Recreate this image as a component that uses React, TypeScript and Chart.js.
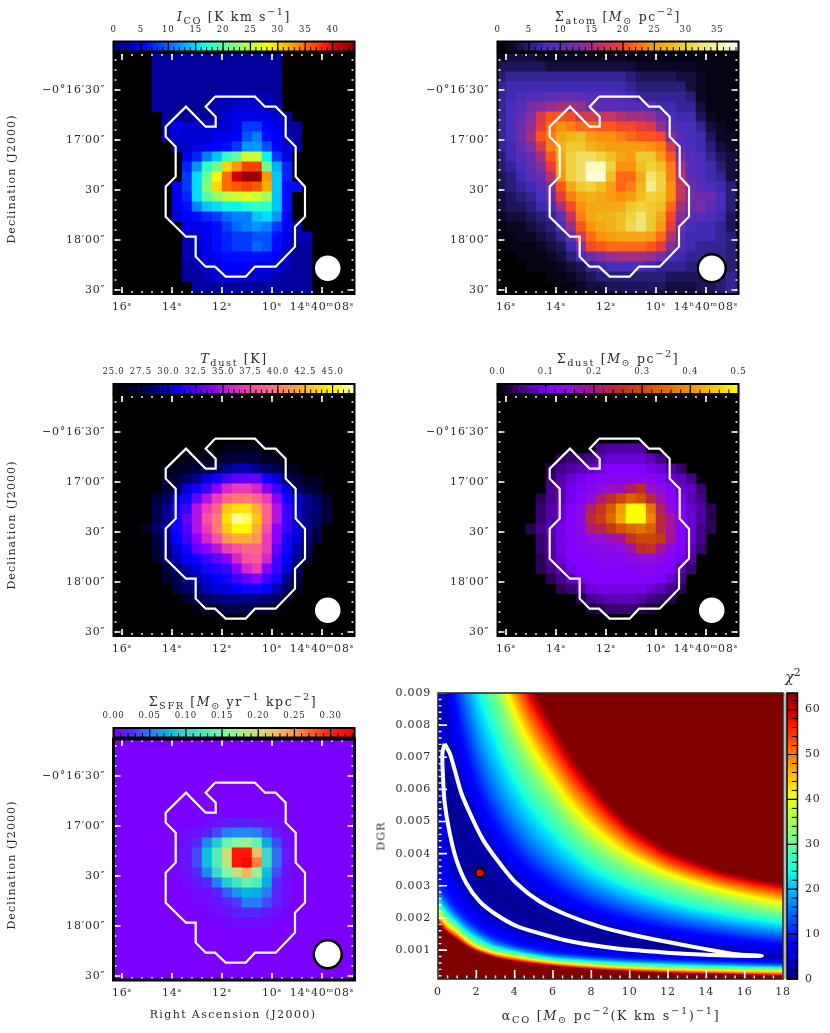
import React, { useEffect, useRef } from "react";
import { Chart, registerables } from "chart.js";

Chart.register(...registerables);

// sky grid of the maps: right ascension seconds and declination arcsec of the cell centres
const raCells = [16.2, 15.8, 15.4, 15.0, 14.6, 14.2, 13.8, 13.4, 13.0, 12.6, 12.2, 11.8, 11.4, 11.0, 10.6, 10.2, 9.8, 9.4, 9.0, 8.6, 8.2, 7.8, 7.4, 7.0, 6.6];
const decCells = [-970, -976, -982, -988, -994, -1000, -1006, -1012, -1018, -1024, -1030, -1036, -1042, -1048, -1054, -1060, -1066, -1072, -1078, -1084, -1090, -1096, -1102, -1108, -1114];

const raTicks = [16, 14, 12, 10, 8];
const raLabels = ["16ˢ", "14ˢ", "12ˢ", "10ˢ", "14ʰ40ᵐ08ˢ"];
const decTicks = [-990, -1020, -1050, -1080, -1110];
const decLabels = ["−0°16′30″", "17′00″", "30″", "18′00″", "30″"];

// mask outline drawn on each map
const maskRa = [12.28, 10.68, 10.28, 9.853, 9.453, 9.453, 9.053, 9.053, 8.68, 8.68, 9.08, 9.08, 9.853, 10.68, 11.053, 11.853, 12.28, 12.653, 13.053, 13.053, 13.44, 14.253, 14.253, 13.853, 13.853, 14.253, 14.253, 13.44, 12.653, 12.253, 12.253, 12.653, 12.28];
const maskDec = [-994, -994, -1000, -1000, -1006, -1018, -1024, -1042, -1048, -1066, -1072, -1084, -1096, -1096, -1102, -1102, -1096, -1096, -1090, -1078, -1078, -1066, -1048, -1042, -1024, -1018, -1012, -1000, -1012, -1012, -1006, -1000, -994];
const beamRa = [7.77];
const beamDec = [-1097];

const iCoRows = [
  [0, 0, 0, 0, 1, 1, 1, 1, 1, 1, 1, 1, 1, 1, 1, 1, 1, 0, 0, 0, 0, 0, 0, 0, 0],
  [0, 0, 0, 0, 1, 1, 1, 1, 1, 1, 1, 1, 1, 1, 1, 1, 1, 0, 0, 0, 0, 0, 0, 0, 0],
  [0, 0, 0, 0, 1, 1, 1, 1, 1, 1, 1, 1, 1, 1, 1, 1, 1, 0, 0, 0, 0, 0, 0, 0, 0],
  [0, 0, 0, 0, 1, 1, 1, 1, 1, 1, 1, 1, 1, 1, 1, 1, 1, 0, 0, 0, 0, 0, 0, 0, 0],
  [0, 0, 0, 0, 1, 1, 1, 1, 1, 1, 2, 2, 2, 2, 2, 2, 1, 0, 0, 0, 0, 0, 0, 0, 0],
  [0, 0, 0, 0, 1, 1, 1, 1, 1, 1, 2, 2, 3, 3, 3, 2, 2, 0, 0, 0, 0, 0, 0, 0, 0],
  [0, 0, 0, 0, 0, 1, 1, 1, 1, 1, 2, 3, 4, 4, 4, 4, 3, 1, 0, 0, 0, 0, 0, 0, 0],
  [0, 0, 0, 0, 0, 2, 4, 3, 3, 3, 3, 3, 4, 8, 8, 5, 4, 2, 1, 0, 0, 0, 0, 0, 0],
  [0, 0, 0, 0, 0, 2, 3, 3, 3, 3, 4, 4, 5, 9, 11, 6, 5, 3, 1, 0, 0, 0, 0, 0, 0],
  [0, 0, 0, 0, 0, 0, 2, 3, 4, 4, 5, 6, 8, 12, 12, 9, 5, 3, 1, 0, 0, 0, 0, 0, 0],
  [0, 0, 0, 0, 0, 0, 0, 4, 7, 11, 14, 18, 21, 26, 26, 16, 8, 4, 0, 0, 0, 0, 0, 0, 0],
  [0, 0, 0, 0, 0, 0, 0, 7, 12, 18, 21, 30, 33, 37, 37, 21, 13, 7, 0, 0, 0, 0, 0, 0, 0],
  [0, 0, 0, 0, 0, 0, 0, 8, 15, 21, 28, 35, 41, 43, 43, 33, 14, 7, 0, 0, 0, 0, 0, 0, 0],
  [0, 0, 0, 0, 0, 0, 5, 8, 15, 22, 30, 35, 36, 37, 36, 32, 14, 6, 6, 0, 0, 0, 0, 0, 0],
  [0, 0, 0, 0, 0, 0, 4, 7, 15, 20, 23, 25, 26, 27, 26, 24, 14, 6, 0, 0, 0, 0, 0, 0, 0],
  [0, 0, 0, 0, 0, 0, 4, 6, 11, 14, 15, 16, 16, 17, 18, 18, 14, 6, 0, 0, 0, 0, 0, 0, 0],
  [0, 0, 0, 0, 0, 0, 3, 5, 6, 7, 8, 10, 11, 11, 14, 15, 12, 5, 0, 0, 0, 0, 0, 0, 0],
  [0, 0, 0, 0, 0, 0, 0, 4, 4, 5, 6, 8, 10, 11, 12, 11, 8, 5, 2, 0, 0, 0, 0, 0, 0],
  [0, 0, 0, 0, 0, 0, 0, 2, 3, 4, 6, 7, 8, 8, 9, 9, 6, 4, 2, 2, 0, 0, 0, 0, 0],
  [0, 0, 0, 0, 0, 0, 0, 2, 3, 4, 6, 7, 8, 8, 10, 9, 6, 3, 1, 1, 0, 0, 0, 0, 0],
  [0, 0, 0, 0, 0, 0, 0, 2, 2, 4, 5, 6, 6, 6, 6, 6, 5, 3, 1, 1, 0, 0, 0, 0, 0],
  [0, 0, 0, 0, 0, 0, 0, 1, 2, 3, 4, 5, 5, 5, 4, 4, 3, 2, 1, 1, 0, 0, 0, 0, 0],
  [0, 0, 0, 0, 0, 0, 0, 1, 1, 2, 3, 4, 4, 3, 3, 3, 2, 1, 1, 1, 0, 0, 0, 0, 0],
  [0, 0, 0, 0, 0, 0, 0, 0, 1, 1, 1, 1, 1, 1, 1, 1, 1, 1, 1, 1, 0, 0, 0, 0, 0],
  [0, 0, 0, 0, 0, 0, 0, 0, 1, 1, 1, 1, 1, 1, 1, 1, 1, 1, 1, 1, 0, 0, 0, 0, 0],
];

const sigmaAtomRows = [
  [2, 3, 3, 3, 2, 2, 2, 2, 2, 2, 2, 2, 2, 1, 1, 1, 1, 1, 1, 1, 1, 1, 1, 1, 1],
  [4, 4, 4, 4, 4, 3, 3, 3, 3, 3, 3, 3, 3, 3, 2, 2, 2, 2, 2, 2, 1, 1, 1, 1, 1],
  [5, 6, 6, 6, 6, 6, 6, 6, 6, 6, 6, 6, 6, 5, 4, 4, 4, 4, 3, 3, 2, 1, 1, 1, 1],
  [6, 7, 7, 7, 7, 7, 7, 7, 7, 7, 7, 7, 7, 6, 5, 5, 5, 5, 5, 3, 2, 1, 1, 1, 1],
  [6, 7, 8, 9, 9, 10, 10, 10, 10, 9, 9, 9, 8, 7, 6, 6, 6, 6, 6, 5, 2, 1, 1, 1, 1],
  [6, 8, 9, 12, 13, 14, 15, 15, 14, 11, 10, 10, 9, 9, 9, 9, 7, 7, 6, 6, 3, 1, 1, 1, 1],
  [6, 8, 10, 13, 18, 21, 21, 20, 18, 18, 17, 17, 16, 15, 15, 14, 11, 8, 7, 7, 4, 2, 1, 1, 1],
  [6, 8, 11, 14, 19, 22, 24, 23, 22, 22, 21, 21, 20, 20, 19, 18, 14, 9, 8, 8, 6, 3, 2, 1, 1],
  [6, 8, 11, 15, 21, 23, 26, 27, 28, 25, 24, 24, 23, 22, 21, 21, 20, 13, 9, 8, 7, 4, 2, 2, 1],
  [6, 7, 10, 13, 18, 23, 27, 29, 29, 27, 26, 25, 25, 25, 25, 24, 23, 18, 9, 8, 7, 5, 3, 2, 2],
  [5, 7, 9, 11, 15, 21, 26, 30, 32, 32, 30, 28, 26, 25, 29, 29, 25, 21, 12, 9, 8, 6, 4, 3, 3],
  [5, 6, 8, 10, 13, 19, 25, 30, 32, 36, 36, 30, 24, 24, 28, 30, 28, 23, 15, 9, 8, 7, 5, 3, 3],
  [4, 5, 7, 9, 11, 16, 24, 30, 32, 37, 37, 28, 22, 22, 26, 33, 30, 23, 16, 10, 8, 7, 6, 3, 3],
  [4, 5, 6, 7, 9, 13, 21, 26, 29, 30, 28, 25, 22, 23, 27, 34, 30, 24, 17, 11, 9, 8, 7, 5, 3],
  [3, 4, 5, 6, 8, 11, 19, 23, 26, 27, 26, 25, 24, 25, 28, 30, 29, 24, 17, 12, 11, 11, 8, 5, 3],
  [3, 4, 4, 5, 7, 8, 15, 20, 24, 26, 26, 26, 26, 29, 30, 29, 28, 22, 15, 11, 12, 10, 8, 5, 2],
  [2, 3, 3, 4, 5, 6, 10, 17, 23, 26, 27, 27, 28, 30, 33, 29, 26, 20, 13, 9, 9, 8, 7, 4, 2],
  [1, 2, 2, 3, 4, 5, 8, 14, 21, 24, 26, 27, 28, 31, 33, 29, 25, 19, 11, 8, 7, 7, 6, 4, 2],
  [1, 1, 2, 2, 3, 4, 6, 10, 18, 22, 24, 25, 26, 26, 26, 25, 22, 16, 9, 7, 7, 7, 6, 5, 3],
  [0, 1, 1, 1, 2, 3, 4, 7, 13, 20, 21, 22, 22, 22, 22, 21, 19, 13, 8, 7, 6, 6, 6, 5, 3],
  [0, 0, 1, 1, 1, 2, 3, 5, 8, 11, 13, 14, 15, 15, 15, 14, 12, 8, 7, 6, 6, 6, 6, 5, 4],
  [0, 0, 0, 1, 1, 1, 2, 3, 4, 6, 7, 8, 8, 8, 8, 7, 6, 6, 6, 5, 5, 5, 5, 5, 4],
  [0, 0, 0, 0, 0, 1, 1, 2, 3, 4, 5, 5, 5, 5, 5, 5, 5, 4, 4, 4, 4, 5, 5, 6, 5],
  [0, 0, 0, 0, 0, 0, 1, 1, 2, 3, 3, 4, 4, 4, 4, 4, 4, 3, 3, 3, 4, 4, 5, 6, 5],
  [0, 0, 0, 0, 0, 0, 1, 1, 1, 2, 2, 2, 3, 3, 3, 3, 3, 3, 3, 3, 3, 3, 4, 6, 5],
];

const tDustRows = [
  [0, 0, 0, 0, 0, 0, 0, 0, 0, 0, 0, 0, 0, 0, 0, 0, 0, 0, 0, 0, 0, 0, 0, 0, 0],
  [0, 0, 0, 0, 0, 0, 0, 0, 0, 0, 0, 0, 0, 0, 0, 0, 0, 0, 0, 0, 0, 0, 0, 0, 0],
  [0, 0, 0, 0, 0, 0, 0, 0, 0, 0, 0, 0, 0, 0, 0, 0, 0, 0, 0, 0, 0, 0, 0, 0, 0],
  [0, 0, 0, 0, 0, 0, 0, 0, 0, 0, 0, 0, 0, 0, 0, 0, 0, 0, 0, 0, 0, 0, 0, 0, 0],
  [0, 0, 0, 0, 0, 0, 0, 0, 0, 0, 0, 0, 0, 0, 0, 0, 0, 0, 0, 0, 0, 0, 0, 0, 0],
  [0, 0, 0, 0, 0, 0, 0, 0, 0, 0, 0, 26, 26, 26, 26, 0, 0, 0, 0, 0, 0, 0, 0, 0, 0],
  [0, 0, 0, 0, 0, 0, 0, 26, 26, 26, 26.5, 27, 27, 27, 27, 26, 26, 0, 0, 0, 0, 0, 0, 0, 0],
  [0, 0, 0, 0, 0, 26, 26, 26.5, 27, 27, 28, 29, 29.5, 29.5, 29, 28, 27.5, 26.5, 26, 0, 0, 0, 0, 0, 0],
  [0, 0, 0, 0, 0, 26.5, 27, 28, 29, 30, 31, 32, 33, 33, 33, 31, 30, 28, 27, 26, 26, 0, 0, 0, 0],
  [0, 0, 0, 0, 0, 27, 28, 30, 31, 32, 34, 36, 37, 37, 36, 34, 32, 30, 28, 27, 26.5, 0, 0, 0, 0],
  [0, 0, 0, 0, 27, 28, 30, 31, 33, 35, 37, 39, 40, 40, 39, 37, 34, 31, 30, 29, 28, 26.5, 0, 0, 0],
  [0, 0, 0, 0, 27.5, 29, 31, 32, 35, 37, 39, 43, 44, 44, 42, 39, 35, 32, 30, 29, 28.5, 27, 0, 0, 0],
  [0, 0, 0, 0, 27.5, 29, 31, 33, 35, 38, 40, 44, 46.5, 46, 43, 39, 35, 32, 30, 29, 28, 27, 0, 0, 0],
  [0, 0, 0, 26.5, 28, 29.5, 31, 32.5, 35, 37, 40, 43, 45, 45, 42, 38, 34, 32, 30, 29, 27.5, 0, 0, 0, 0],
  [0, 0, 0, 0, 27, 29, 30.5, 32, 34, 36, 38, 41, 42, 42, 41, 37, 34, 31, 30, 28.5, 27, 0, 0, 0, 0],
  [0, 0, 0, 0, 27, 28.5, 30, 31, 33, 34, 35, 37, 38, 39, 39, 37, 33, 31, 29.5, 28, 0, 0, 0, 0, 0],
  [0, 0, 0, 0, 26.5, 28, 29.5, 30.5, 31, 32, 33, 34, 36, 38, 38.5, 36, 32, 30.5, 29, 27, 0, 0, 0, 0, 0],
  [0, 0, 0, 0, 0, 27, 28.5, 29.5, 30, 31, 31.5, 32, 34, 36, 37, 34, 32, 30, 28.5, 0, 0, 0, 0, 0, 0],
  [0, 0, 0, 0, 0, 26.5, 27.5, 29, 29.5, 30, 30.5, 31, 32, 33, 34, 32, 31, 29, 27.5, 0, 0, 0, 0, 0, 0],
  [0, 0, 0, 0, 0, 0, 27, 28, 29, 29.5, 30, 30, 30.5, 31, 31, 30.5, 29.5, 28, 26.5, 0, 0, 0, 0, 0, 0],
  [0, 0, 0, 0, 0, 0, 0, 26.5, 27.5, 28, 28.5, 29, 29, 29, 29, 28.5, 28, 26.5, 0, 0, 0, 0, 0, 0, 0],
  [0, 0, 0, 0, 0, 0, 0, 0, 26, 26.5, 27, 27.5, 27.5, 27.5, 27, 26.5, 26, 0, 0, 0, 0, 0, 0, 0, 0],
  [0, 0, 0, 0, 0, 0, 0, 0, 0, 0, 0, 0, 0, 0, 0, 0, 0, 0, 0, 0, 0, 0, 0, 0, 0],
  [0, 0, 0, 0, 0, 0, 0, 0, 0, 0, 0, 0, 0, 0, 0, 0, 0, 0, 0, 0, 0, 0, 0, 0, 0],
  [0, 0, 0, 0, 0, 0, 0, 0, 0, 0, 0, 0, 0, 0, 0, 0, 0, 0, 0, 0, 0, 0, 0, 0, 0],
];

const sigmaDustRows = [
  [0, 0, 0, 0, 0, 0, 0, 0, 0, 0, 0, 0, 0, 0, 0, 0, 0, 0, 0, 0, 0, 0, 0, 0, 0],
  [0, 0, 0, 0, 0, 0, 0, 0, 0, 0, 0, 0, 0, 0, 0, 0, 0, 0, 0, 0, 0, 0, 0, 0, 0],
  [0, 0, 0, 0, 0, 0, 0, 0, 0, 0, 0, 0, 0, 0, 0, 0, 0, 0, 0, 0, 0, 0, 0, 0, 0],
  [0, 0, 0, 0, 0, 0, 0, 0, 0, 0, 0, 0, 0, 0, 0, 0, 0, 0, 0, 0, 0, 0, 0, 0, 0],
  [0, 0, 0, 0, 0, 0, 0, 0, 0, 0, 0, 0, 0, 0, 0, 0, 0, 0, 0, 0, 0, 0, 0, 0, 0],
  [0, 0, 0, 0, 0, 0, 0, 0, 0, 0, 0.05, 0.06, 0.06, 0.06, 0.06, 0, 0, 0, 0, 0, 0, 0, 0, 0, 0],
  [0, 0, 0, 0, 0, 0, 0.03, 0.04, 0.04, 0.05, 0.07, 0.08, 0.08, 0.08, 0.08, 0.07, 0.05, 0, 0, 0, 0, 0, 0, 0, 0],
  [0, 0, 0, 0, 0, 0.03, 0.05, 0.06, 0.07, 0.08, 0.09, 0.1, 0.1, 0.1, 0.1, 0.09, 0.08, 0.06, 0.04, 0, 0, 0, 0, 0, 0],
  [0, 0, 0, 0, 0, 0.04, 0.06, 0.08, 0.09, 0.1, 0.11, 0.12, 0.12, 0.12, 0.12, 0.12, 0.1, 0.08, 0.07, 0.05, 0, 0, 0, 0, 0],
  [0, 0, 0, 0, 0, 0.05, 0.07, 0.09, 0.1, 0.12, 0.14, 0.16, 0.17, 0.22, 0.25, 0.16, 0.14, 0.11, 0.08, 0.07, 0.04, 0, 0, 0, 0],
  [0, 0, 0, 0, 0.03, 0.05, 0.07, 0.09, 0.11, 0.14, 0.21, 0.25, 0.29, 0.33, 0.31, 0.24, 0.18, 0.12, 0.09, 0.07, 0.05, 0, 0, 0, 0],
  [0, 0, 0, 0, 0.04, 0.06, 0.08, 0.1, 0.13, 0.22, 0.26, 0.32, 0.41, 0.5, 0.5, 0.36, 0.22, 0.14, 0.1, 0.08, 0.06, 0.03, 0, 0, 0],
  [0, 0, 0, 0, 0.04, 0.06, 0.08, 0.1, 0.13, 0.24, 0.28, 0.34, 0.42, 0.5, 0.5, 0.38, 0.24, 0.19, 0.1, 0.08, 0.06, 0.03, 0, 0, 0],
  [0, 0, 0, 0.03, 0.05, 0.07, 0.09, 0.11, 0.13, 0.21, 0.23, 0.27, 0.31, 0.34, 0.36, 0.33, 0.24, 0.19, 0.11, 0.08, 0.05, 0.03, 0, 0, 0],
  [0, 0, 0, 0, 0.04, 0.06, 0.09, 0.1, 0.12, 0.14, 0.15, 0.17, 0.19, 0.26, 0.29, 0.29, 0.27, 0.19, 0.11, 0.08, 0.05, 0, 0, 0, 0],
  [0, 0, 0, 0, 0.04, 0.06, 0.09, 0.1, 0.11, 0.12, 0.13, 0.13, 0.14, 0.17, 0.25, 0.26, 0.19, 0.13, 0.1, 0.07, 0.04, 0, 0, 0, 0],
  [0, 0, 0, 0, 0.03, 0.06, 0.08, 0.1, 0.1, 0.11, 0.12, 0.12, 0.12, 0.13, 0.14, 0.14, 0.13, 0.11, 0.09, 0.06, 0, 0, 0, 0, 0],
  [0, 0, 0, 0, 0.03, 0.05, 0.07, 0.09, 0.1, 0.1, 0.11, 0.11, 0.11, 0.11, 0.12, 0.12, 0.11, 0.1, 0.07, 0.04, 0, 0, 0, 0, 0],
  [0, 0, 0, 0, 0, 0.03, 0.05, 0.07, 0.09, 0.1, 0.1, 0.1, 0.1, 0.1, 0.1, 0.1, 0.1, 0.08, 0.05, 0, 0, 0, 0, 0, 0],
  [0, 0, 0, 0, 0, 0, 0.03, 0.04, 0.06, 0.08, 0.09, 0.09, 0.09, 0.09, 0.09, 0.08, 0.07, 0.05, 0.03, 0, 0, 0, 0, 0, 0],
  [0, 0, 0, 0, 0, 0, 0, 0, 0.03, 0.05, 0.06, 0.07, 0.07, 0.07, 0.06, 0.05, 0.04, 0.03, 0, 0, 0, 0, 0, 0, 0],
  [0, 0, 0, 0, 0, 0, 0, 0, 0, 0.02, 0.03, 0.04, 0.04, 0.04, 0.03, 0.02, 0, 0, 0, 0, 0, 0, 0, 0, 0],
  [0, 0, 0, 0, 0, 0, 0, 0, 0, 0, 0, 0, 0, 0, 0, 0, 0, 0, 0, 0, 0, 0, 0, 0, 0],
  [0, 0, 0, 0, 0, 0, 0, 0, 0, 0, 0, 0, 0, 0, 0, 0, 0, 0, 0, 0, 0, 0, 0, 0, 0],
  [0, 0, 0, 0, 0, 0, 0, 0, 0, 0, 0, 0, 0, 0, 0, 0, 0, 0, 0, 0, 0, 0, 0, 0, 0],
];

const sigmaSfrRows = [
  [0, 0, 0, 0, 0, 0, 0, 0, 0, 0, 0, 0, 0, 0, 0, 0, 0, 0, 0, 0, 0, 0, 0, 0, 0],
  [0, 0, 0, 0, 0, 0, 0, 0, 0, 0, 0, 0, 0, 0, 0, 0, 0, 0, 0, 0, 0, 0, 0, 0, 0],
  [0, 0, 0, 0, 0, 0, 0, 0, 0, 0, 0, 0, 0, 0, 0, 0, 0, 0, 0, 0, 0, 0, 0, 0, 0],
  [0, 0, 0, 0, 0, 0, 0, 0, 0, 0, 0, 0, 0, 0, 0, 0, 0, 0, 0, 0, 0, 0, 0, 0, 0],
  [0, 0, 0, 0, 0, 0, 0, 0, 0, 0, 0, 0, 0, 0, 0, 0, 0, 0, 0, 0, 0, 0, 0, 0, 0],
  [0, 0, 0, 0, 0, 0, 0, 0, 0, 0, 0, 0, 0, 0, 0, 0, 0, 0, 0, 0, 0, 0, 0, 0, 0],
  [0, 0, 0, 0, 0, 0, 0, 0, 0, 0, 0, 0, 0, 0, 0, 0, 0, 0, 0, 0, 0, 0, 0, 0, 0],
  [0, 0, 0, 0, 0, 0, 0, 0, 0, 0.002, 0.002, 0.002, 0.002, 0.002, 0.002, 0.002, 0, 0, 0, 0, 0, 0, 0, 0, 0],
  [0, 0, 0, 0, 0, 0, 0, 0.002, 0.004, 0.006, 0.01, 0.015, 0.018, 0.018, 0.015, 0.01, 0.006, 0.002, 0, 0, 0, 0, 0, 0, 0],
  [0, 0, 0, 0, 0, 0, 0.002, 0.006, 0.012, 0.02, 0.035, 0.05, 0.055, 0.055, 0.05, 0.035, 0.015, 0.006, 0, 0, 0, 0, 0, 0, 0],
  [0, 0, 0, 0, 0, 0, 0.004, 0.01, 0.025, 0.055, 0.09, 0.14, 0.16, 0.17, 0.14, 0.07, 0.035, 0.01, 0.002, 0, 0, 0, 0, 0, 0],
  [0, 0, 0, 0, 0, 0, 0.006, 0.014, 0.035, 0.08, 0.13, 0.2, 0.31, 0.31, 0.22, 0.1, 0.045, 0.014, 0.002, 0, 0, 0, 0, 0, 0],
  [0, 0, 0, 0, 0, 0, 0.006, 0.014, 0.035, 0.08, 0.13, 0.19, 0.31, 0.33, 0.26, 0.1, 0.045, 0.014, 0.002, 0, 0, 0, 0, 0, 0],
  [0, 0, 0, 0, 0, 0, 0.004, 0.01, 0.025, 0.055, 0.1, 0.15, 0.19, 0.23, 0.17, 0.08, 0.035, 0.01, 0.002, 0, 0, 0, 0, 0, 0],
  [0, 0, 0, 0, 0, 0, 0, 0.006, 0.014, 0.025, 0.05, 0.09, 0.12, 0.14, 0.13, 0.07, 0.025, 0.006, 0, 0, 0, 0, 0, 0, 0],
  [0, 0, 0, 0, 0, 0, 0, 0.002, 0.006, 0.01, 0.02, 0.04, 0.06, 0.075, 0.07, 0.05, 0.02, 0.006, 0, 0, 0, 0, 0, 0, 0],
  [0, 0, 0, 0, 0, 0, 0, 0.002, 0.004, 0.006, 0.01, 0.02, 0.03, 0.05, 0.05, 0.035, 0.02, 0.006, 0, 0, 0, 0, 0, 0, 0],
  [0, 0, 0, 0, 0, 0, 0, 0, 0.002, 0.004, 0.006, 0.01, 0.02, 0.025, 0.025, 0.015, 0.01, 0.002, 0, 0, 0, 0, 0, 0, 0],
  [0, 0, 0, 0, 0, 0, 0, 0, 0, 0.002, 0.002, 0.004, 0.006, 0.008, 0.008, 0.006, 0.002, 0, 0, 0, 0, 0, 0, 0, 0],
  [0, 0, 0, 0, 0, 0, 0, 0, 0, 0, 0, 0, 0, 0, 0, 0, 0, 0, 0, 0, 0, 0, 0, 0, 0],
  [0, 0, 0, 0, 0, 0, 0, 0, 0, 0, 0, 0, 0, 0, 0, 0, 0, 0, 0, 0, 0, 0, 0, 0, 0],
  [0, 0, 0, 0, 0, 0, 0, 0, 0, 0, 0, 0, 0, 0, 0, 0, 0, 0, 0, 0, 0, 0, 0, 0, 0],
  [0, 0, 0, 0, 0, 0, 0, 0, 0, 0, 0, 0, 0, 0, 0, 0, 0, 0, 0, 0, 0, 0, 0, 0, 0],
  [0, 0, 0, 0, 0, 0, 0, 0, 0, 0, 0, 0, 0, 0, 0, 0, 0, 0, 0, 0, 0, 0, 0, 0, 0],
  [0, 0, 0, 0, 0, 0, 0, 0, 0, 0, 0, 0, 0, 0, 0, 0, 0, 0, 0, 0, 0, 0, 0, 0, 0],
];

// chi-square surface, read as the DGR where each level is crossed, one row per alpha column
const alphaColumns = [0, 0.5, 1, 2, 3, 4, 6, 8, 10, 12, 15, 18];
const chi2Levels = [64, 52, 41, 32, 24, 16, 10, 6, 3, 1, 3, 6, 10, 16, 24, 32, 41, 52, 64];
const levelDgr = [
  [0.00184, 0.00198, 0.00215, 0.00235, 0.00256, 0.0028, 0.00308, 0.004, 0.3, 0.4, 0.5, 0.6, 0.7, 0.8, 0.9, 1, 1.1, 1.2, 1.3],
  [0.00152, 0.00164, 0.00178, 0.00195, 0.00213, 0.00236, 0.00262, 0.0034, 0.005, 0.0061, 0.0073, 0.009, 0.01065, 0.0126, 0.0154, 0.0185, 0.0207, 0.023, 0.026],
  [0.00132, 0.00144, 0.00157, 0.0017, 0.00184, 0.00203, 0.00225, 0.0028, 0.0038, 0.0052, 0.0062, 0.0074, 0.00875, 0.01036, 0.0127, 0.0152, 0.017, 0.019, 0.0214],
  [0.00096, 0.00103, 0.00111, 0.00123, 0.00137, 0.00154, 0.00173, 0.0021, 0.00265, 0.0036, 0.00484, 0.00545, 0.00645, 0.00763, 0.00934, 0.0112, 0.01255, 0.0139, 0.0158],
  [0.00076, 0.00083, 0.0009, 0.00098, 0.00108, 0.00121, 0.00137, 0.00165, 0.00205, 0.0028, 0.0039, 0.0043, 0.0051, 0.00604, 0.0076, 0.00905, 0.0102, 0.0113, 0.0129],
  [0.00064, 0.00072, 0.0008, 0.00087, 0.00095, 0.00105, 0.00116, 0.00143, 0.00178, 0.00235, 0.00313, 0.00357, 0.00422, 0.005, 0.00625, 0.0075, 0.0084, 0.0094, 0.0106],
  [0.0005, 0.00056, 0.00062, 0.00068, 0.00074, 0.00083, 0.00092, 0.00112, 0.0014, 0.0018, 0.00231, 0.00265, 0.00314, 0.00372, 0.00465, 0.0056, 0.0063, 0.0071, 0.0081],
  [0.0004, 0.00046, 0.00052, 0.00058, 0.00065, 0.00073, 0.00082, 0.00097, 0.00115, 0.00148, 0.00182, 0.00208, 0.00245, 0.00292, 0.00355, 0.00425, 0.00485, 0.0055, 0.00625],
  [0.00033, 0.00039, 0.00045, 0.00052, 0.00059, 0.00066, 0.00074, 0.00088, 0.00102, 0.00128, 0.0015, 0.00172, 0.00205, 0.00242, 0.00295, 0.0035, 0.00395, 0.0044, 0.00495],
  [0.00028, 0.00034, 0.00041, 0.00047, 0.00054, 0.00062, 0.0007, 0.0008, 0.00092, 0.00112, 0.00125, 0.00148, 0.00176, 0.0021, 0.00252, 0.00303, 0.00338, 0.0037, 0.00415],
  [0.00024, 0.0003, 0.00037, 0.00043, 0.00049, 0.00056, 0.00064, 0.00074, 0.00083, 0.00088, 0.00092, 0.00122, 0.00147, 0.00175, 0.00212, 0.00252, 0.00284, 0.00312, 0.00345],
  [0.00019, 0.00026, 0.00034, 0.0004, 0.00045, 0.00052, 0.00059, 0.00069, 0.00078, 0.000785, 0.00079, 0.00105, 0.00126, 0.00152, 0.00184, 0.00215, 0.00246, 0.00277, 0.00308],
];

const confidenceAlpha = [0.35, 0.61, 0.87, 1.22, 1.74, 2.35, 3.22, 4.09, 5.31, 6.71, 8.45, 10.19, 11.93, 13.68, 15.42, 16.9, 15.42, 13.68, 11.93, 10.19, 8.45, 6.71, 5.31, 4.09, 3.05, 2.18, 1.48, 0.96, 0.61, 0.35, 0.26, 0.23, 0.35];
const confidenceDgr = [0.00742, 0.00713, 0.00661, 0.00588, 0.00516, 0.00443, 0.0037, 0.00308, 0.00251, 0.0021, 0.00173, 0.00147, 0.00126, 0.00106, 0.00088, 0.00082, 0.00082, 0.00086, 0.00092, 0.001, 0.00112, 0.0013, 0.00152, 0.00175, 0.0021, 0.00251, 0.00308, 0.00381, 0.00464, 0.00557, 0.0064, 0.00713, 0.00742];
const bestAlpha = [2.18];
const bestDgr = [0.00341];

const alphaTicks = [0, 2, 4, 6, 8, 10, 12, 14, 16, 18];
const dgrTicks = [0.001, 0.002, 0.003, 0.004, 0.005, 0.006, 0.007, 0.008, 0.009];
const chi2Ticks = [0, 10, 20, 30, 40, 50, 60];

type Stop = number[];

const jetStops: Stop[] = [[0, 0, 0, 128], [0.11, 0, 0, 255], [0.125, 0, 0, 255], [0.34, 0, 219, 255], [0.35, 0, 229, 246], [0.375, 20, 255, 226], [0.64, 247, 255, 8], [0.66, 255, 236, 0], [0.89, 255, 18, 0], [0.91, 232, 0, 0], [1, 128, 0, 0]];
const atomStops: Stop[] = [[0, 0, 0, 0], [2.5, 15, 10, 45], [5, 40, 30, 120], [7.5, 70, 45, 190], [10, 95, 45, 180], [13, 130, 45, 160], [16, 180, 50, 110], [19, 230, 60, 60], [21, 255, 85, 25], [24, 250, 145, 15], [27, 240, 180, 25], [30, 240, 210, 60], [33, 240, 230, 120], [36, 250, 250, 190], [38.4, 255, 255, 255]];
const tDustStops: Stop[] = [[25, 0, 0, 0], [27, 0, 0, 60], [29, 0, 0, 140], [30.5, 0, 0, 255], [32.5, 80, 0, 255], [34, 140, 0, 255], [35.5, 200, 30, 210], [37.5, 245, 70, 170], [39.5, 255, 110, 130], [41.5, 255, 160, 70], [43, 255, 200, 20], [45, 255, 250, 0], [47, 255, 255, 210]];
const dustStops: Stop[] = [[0, 0, 0, 0], [0.05, 70, 0, 140], [0.1, 130, 0, 255], [0.15, 145, 15, 215], [0.2, 170, 20, 140], [0.25, 190, 45, 40], [0.3, 210, 75, 0], [0.35, 225, 110, 0], [0.4, 240, 150, 0], [0.45, 248, 200, 0], [0.5, 255, 255, 0]];
const sfrStops: Stop[] = [[0, 122, 0, 255], [0.025, 85, 40, 250], [0.05, 40, 125, 245], [0.075, 0, 185, 225], [0.1, 60, 215, 205], [0.125, 70, 235, 185], [0.15, 120, 250, 170], [0.175, 165, 240, 140], [0.2, 205, 220, 120], [0.225, 245, 185, 100], [0.25, 255, 150, 70], [0.275, 255, 90, 40], [0.3, 255, 30, 15], [0.333, 255, 0, 0]];

const SERIF = '"DejaVu Serif", serif';
const TEXT = "#2a2a2a";

const rgbAt = (stops: Stop[], v: number) => {
  if (v <= stops[0][0]) return stops[0].slice(1);
  for (let i = 1; i < stops.length; i++) {
    if (v <= stops[i][0]) {
      const a = stops[i - 1];
      const b = stops[i];
      const t = (v - a[0]) / (b[0] - a[0]);
      return [a[1] + (b[1] - a[1]) * t, a[2] + (b[2] - a[2]) * t, a[3] + (b[3] - a[3]) * t];
    }
  }
  return stops[stops.length - 1].slice(1);
};
const cssAt = (stops: Stop[], v: number) => {
  const c = rgbAt(stops, v);
  return `rgb(${Math.round(c[0])},${Math.round(c[1])},${Math.round(c[2])})`;
};

const logLevels = levelDgr.map((col) => col.map((d) => Math.log(d)));
const logAlpha = alphaColumns.map((a) => Math.log(a + 1.8));

// value between the typed level crossings, only used to shade the surface smoothly
const chi2At = (alpha: number, dgr: number) => {
  const la = Math.log(Math.max(alpha, 0) + 1.8);
  const ld = Math.log(dgr);
  let i = 0;
  while (i < logAlpha.length - 2 && la > logAlpha[i + 1]) i++;
  const t = Math.min(1, (la - logAlpha[i]) / (logAlpha[i + 1] - logAlpha[i]));
  let prev = logLevels[i][0] + (logLevels[i + 1][0] - logLevels[i][0]) * t;
  if (ld <= prev) return chi2Levels[0];
  for (let k = 1; k < chi2Levels.length; k++) {
    const cur = logLevels[i][k] + (logLevels[i + 1][k] - logLevels[i][k]) * t;
    if (ld <= cur) {
      const f = (ld - prev) / (cur - prev);
      return chi2Levels[k - 1] + (chi2Levels[k] - chi2Levels[k - 1]) * f;
    }
    prev = cur;
  }
  return chi2Levels[chi2Levels.length - 1];
};

const marks = (ctx: any, scale: any, vals: number[], side: string, len: number, width: number, color: string) => {
  const area = scale.chart.chartArea;
  ctx.strokeStyle = color;
  ctx.lineWidth = width;
  ctx.beginPath();
  vals.forEach((v) => {
    const p = scale.getPixelForValue(v);
    if (side === "bottom") { ctx.moveTo(p, area.bottom); ctx.lineTo(p, area.bottom - len); }
    if (side === "top") { ctx.moveTo(p, area.top); ctx.lineTo(p, area.top + len); }
    if (side === "left") { ctx.moveTo(area.left, p); ctx.lineTo(area.left + len, p); }
    if (side === "right") { ctx.moveTo(area.right, p); ctx.lineTo(area.right - len, p); }
  });
  ctx.stroke();
};

// wider glyph spacing for the tick labels, the reference face is set loose
const textSpacing = {
  id: "textSpacing",
  beforeDraw(chart: any) {
    chart.ctx.letterSpacing = "0.8px";
  },
};

const colorbarPlugin = (stops: Stop[], minorStep: number, y0: number, h: number) => ({
  id: "colorbar",
  afterDraw(chart: any) {
    const { ctx, chartArea } = chart;
    const s = chart.scales.cbar;
    const y = chartArea.top - y0;
    ctx.save();
    for (let px = Math.floor(chartArea.left); px < chartArea.right; px++) {
      ctx.fillStyle = cssAt(stops, s.getValueForPixel(px + 0.5));
      ctx.fillRect(px, y, 1.2, h);
    }
    ctx.strokeStyle = "#000";
    ctx.lineWidth = 1;
    ctx.beginPath();
    for (let v = s.min; v < s.max; v += minorStep) {
      const p = s.getPixelForValue(v);
      ctx.moveTo(p, y + h);
      ctx.lineTo(p, y + h * 0.55);
    }
    ctx.stroke();
    ctx.lineWidth = 1.2;
    ctx.beginPath();
    s.ticks.forEach((t: any) => {
      const p = s.getPixelForValue(t.value);
      ctx.moveTo(p, y);
      ctx.lineTo(p, y + h);
    });
    ctx.stroke();
    ctx.lineWidth = 2;
    ctx.strokeRect(chartArea.left, y, chartArea.width, h);
    ctx.restore();
  },
});

const mapFrame = (background: string, frame: number) => ({
  id: "mapFrame",
  beforeDatasetsDraw(chart: any) {
    const { ctx, chartArea: a } = chart;
    ctx.fillStyle = background;
    ctx.fillRect(a.left, a.top, a.width, a.height);
  },
  afterDatasetsDraw(chart: any) {
    const { ctx, chartArea: a, scales } = chart;
    const raMinor: number[] = [];
    for (let v = 16.4; v > 6.8; v -= 0.4) raMinor.push(v);
    const decMinor: number[] = [];
    for (let v = -972; v > -1112; v -= 6) decMinor.push(v);
    ctx.save();
    ["bottom", "top"].forEach((side) => {
      marks(ctx, scales.x, raMinor, side, 3, 1.4, "#fff");
      marks(ctx, scales.x, raTicks, side, 7, 1.6, "#fff");
    });
    ["left", "right"].forEach((side) => {
      marks(ctx, scales.y, decMinor, side, 3, 1.4, "#fff");
      marks(ctx, scales.y, decTicks, side, 7, 1.6, "#fff");
    });
    ctx.strokeStyle = "#000";
    ctx.lineWidth = frame;
    ctx.strokeRect(a.left, a.top, a.width, a.height);
    ctx.restore();
  },
});

const fixedTicks = (vals: number[]) => (s: any) => {
  s.ticks = vals.map((value) => ({ value }));
};
// fixed box for an axis, with no extra room asked for labels that hang over the plot
const fitBox = (size: number) => (s: any) => {
  if (s.isHorizontal()) s.height = size;
  else s.width = size;
  s.paddingLeft = 0;
  s.paddingRight = 0;
  s.paddingTop = 0;
  s.paddingBottom = 0;
};
const noGrid = { grid: { display: false, drawTicks: false }, border: { display: false } };

const mapConfig = (p: any): any => {
  const cells: any[] = [];
  const colors: string[] = [];
  p.rows.forEach((row: number[], r: number) =>
    row.forEach((v, c) => {
      if (v > 0) {
        cells.push({ x: raCells[c], y: decCells[r] });
        colors.push(cssAt(p.stops, v));
      }
    })
  );
  return {
    type: "scatter",
    data: {
      datasets: [
        {
          data: beamRa.map((x, i) => ({ x, y: beamDec[i] })),
          pointRadius: 14,
          pointBackgroundColor: "#fff",
          pointBorderColor: "#000",
          pointBorderWidth: 2.5,
          order: 0,
        },
        {
          data: maskRa.map((x, i) => ({ x, y: maskDec[i] })),
          showLine: true,
          pointRadius: 0,
          borderColor: "#fff",
          borderWidth: 2.2,
          order: 1,
        },
        {
          data: cells,
          pointStyle: "rect",
          pointRadius: 7.4,
          pointBorderWidth: 0,
          pointBackgroundColor: colors,
          clip: 0,
          order: 2,
        },
      ],
    },
    options: {
      animation: false,
      responsive: false,
      devicePixelRatio: 1,
      events: [],
      layout: { autoPadding: false, padding: { right: 14.5 } },
      plugins: { legend: { display: false }, tooltip: { enabled: false } },
      scales: {
        x: {
          type: "linear",
          reverse: true,
          min: 6.7,
          max: 16.34,
          ...noGrid,
          afterBuildTicks: fixedTicks(raTicks),
          afterFit: fitBox(28),
          ticks: {
            autoSkip: false,
            maxRotation: 0,
            minRotation: 0,
            padding: 7,
            color: TEXT,
            font: { family: SERIF, size: 11 },
            callback: (v: number) => raLabels[raTicks.indexOf(v)],
          },
        },
        y: {
          type: "linear",
          min: -1112.4,
          max: -967.8,
          ...noGrid,
          afterBuildTicks: fixedTicks(decTicks),
          afterFit: fitBox(113.5),
          ticks: {
            autoSkip: false,
            padding: 8,
            color: TEXT,
            font: { family: SERIF, size: 11 },
            callback: (v: number) => decLabels[decTicks.indexOf(v)],
          },
        },
        cbar: {
          axis: "x",
          type: "linear",
          position: "top",
          min: p.vmin,
          max: p.vmax,
          ...noGrid,
          afterBuildTicks: fixedTicks(p.cbTicks),
          afterFit: fitBox(53),
          ticks: {
            autoSkip: false,
            maxRotation: 0,
            minRotation: 0,
            padding: 18,
            color: TEXT,
            font: { family: SERIF, size: 8.5 },
            callback: (v: number) => v.toFixed(p.cbDigits),
          },
        },
      },
    },
    plugins: [textSpacing, mapFrame(p.background, p.frame), colorbarPlugin(p.stops, p.minorStep, p.barGap, p.barH)],
  };
};

const surfacePlugin = {
  id: "surface",
  beforeDatasetsDraw(chart: any) {
    const { ctx, chartArea: a, scales } = chart;
    const w = Math.ceil(a.width);
    const h = Math.ceil(a.height);
    const off = document.createElement("canvas");
    off.width = w;
    off.height = h;
    const octx = off.getContext("2d");
    if (!octx) return;
    const img = octx.createImageData(w, h);
    for (let j = 0; j < h; j++) {
      const d = scales.y.getValueForPixel(a.top + j + 0.5);
      for (let i = 0; i < w; i++) {
        const c = rgbAt(jetStops, chi2At(scales.x.getValueForPixel(a.left + i + 0.5), d) / 64);
        const o = (j * w + i) * 4;
        img.data[o] = c[0];
        img.data[o + 1] = c[1];
        img.data[o + 2] = c[2];
        img.data[o + 3] = 255;
      }
    }
    octx.putImageData(img, 0, 0);
    ctx.drawImage(off, a.left, a.top);
  },
  afterDatasetsDraw(chart: any) {
    const { ctx, chartArea: a, scales } = chart;
    const xMinor: number[] = [];
    for (let v = 0.5; v < 18; v += 0.5) xMinor.push(v);
    const yMinor: number[] = [];
    for (let v = 0.0002; v < 0.009; v += 0.0002) yMinor.push(v);
    ctx.save();
    marks(ctx, scales.x, xMinor, "bottom", 3.5, 1.4, "#fff");
    marks(ctx, scales.x, alphaTicks, "bottom", 9, 1.6, "#fff");
    marks(ctx, scales.y, yMinor, "left", 3.5, 1.4, "#fff");
    marks(ctx, scales.y, dgrTicks, "left", 9, 1.6, "#fff");
    ctx.strokeStyle = "#222";
    ctx.lineWidth = 1.5;
    ctx.strokeRect(a.left, a.top, a.width, a.height);
    ctx.restore();
  },
  afterDraw(chart: any) {
    const { ctx, chartArea: a } = chart;
    const s = chart.scales.cbar;
    const x = a.right + 4;
    const w = 10.5;
    ctx.save();
    ctx.fillStyle = "#b8b8b8";
    ctx.fillRect(a.right + 1, a.top, 2.5, a.height);
    for (let py = Math.floor(a.top); py < a.bottom; py++) {
      ctx.fillStyle = cssAt(jetStops, s.getValueForPixel(py + 0.5) / 64);
      ctx.fillRect(x, py, w, 1.2);
    }
    ctx.strokeStyle = "#000";
    ctx.lineWidth = 1;
    ctx.beginPath();
    for (let v = 2; v < 64; v += 2) {
      const p = s.getPixelForValue(v);
      ctx.moveTo(x + w, p);
      ctx.lineTo(x + w * 0.45, p);
    }
    ctx.stroke();
    ctx.lineWidth = 1.2;
    ctx.beginPath();
    chi2Ticks.forEach((v) => {
      const p = s.getPixelForValue(v);
      ctx.moveTo(x, p);
      ctx.lineTo(x + w, p);
    });
    ctx.stroke();
    ctx.lineWidth = 1.5;
    ctx.strokeRect(x, a.top, w, a.height);
    ctx.restore();
  },
};

const surfaceConfig = (): any => ({
  type: "scatter",
  data: {
    datasets: [
      {
        data: bestAlpha.map((x, i) => ({ x, y: bestDgr[i] })),
        pointRadius: 4.5,
        pointBackgroundColor: "#f00",
        pointBorderColor: "#000",
        pointBorderWidth: 2.2,
        order: 0,
      },
      {
        data: confidenceAlpha.map((x, i) => ({ x, y: confidenceDgr[i] })),
        showLine: true,
        tension: 0.3,
        pointRadius: 0,
        borderColor: "#fff",
        borderWidth: 4,
        order: 1,
      },
    ],
  },
  options: {
    animation: false,
    responsive: false,
    devicePixelRatio: 1,
    events: [],
    layout: { autoPadding: false, padding: { top: 23 } },
    plugins: { legend: { display: false }, tooltip: { enabled: false } },
    scales: {
      x: {
        type: "linear",
        min: 0,
        max: 18,
        ...noGrid,
        afterBuildTicks: fixedTicks(alphaTicks),
        afterFit: fitBox(21),
        ticks: { autoSkip: false, maxRotation: 0, minRotation: 0, padding: 7, color: TEXT, font: { family: SERIF, size: 11 } },
      },
      y: {
        type: "linear",
        min: 0.0001,
        max: 0.009,
        ...noGrid,
        afterBuildTicks: fixedTicks(dgrTicks),
        afterFit: fitBox(58),
        ticks: { autoSkip: false, padding: 7, color: TEXT, font: { family: SERIF, size: 11 }, callback: (v: number) => v.toFixed(3) },
      },
      cbar: {
        axis: "y",
        type: "linear",
        position: "right",
        min: 0,
        max: 63.7,
        ...noGrid,
        afterBuildTicks: fixedTicks(chi2Ticks),
        afterFit: fitBox(47),
        ticks: { autoSkip: false, padding: 22, color: TEXT, font: { family: SERIF, size: 11 } },
      },
    },
  },
  plugins: [textSpacing, surfacePlugin],
});

const ChartCanvas = ({ left, top, width, height, config }: any) => {
  const ref = useRef<HTMLCanvasElement | null>(null);
  useEffect(() => {
    if (!ref.current) return;
    const chart = new Chart(ref.current, config());
    return () => chart.destroy();
  }, []);
  return <canvas ref={ref} width={width} height={height} style={{ position: "absolute", left, top }} />;
};

const Sub = ({ children }: any) => <sub style={{ fontSize: "0.78em", lineHeight: 0 }}>{children}</sub>;
const Sup = ({ children }: any) => <sup style={{ fontSize: "0.78em", lineHeight: 0 }}>{children}</sup>;

const Label = ({ x, y, rotate, size = 12.5, spacing = 1.6, children }: any) => (
  <div
    style={{
      position: "absolute",
      left: x,
      top: y,
      transform: `translate(-50%, -50%)${rotate ? " rotate(-90deg)" : ""}`,
      whiteSpace: "nowrap",
      fontFamily: SERIF,
      fontSize: size,
      letterSpacing: spacing,
      color: TEXT,
    }}
  >
    {children}
  </div>
);

const Sun = () => (
  <>
    <i>M</i>
    <Sub>⊙</Sub>
  </>
);

const panels = [
  { left: 0, top: 0, rows: iCoRows, stops: jetStops.map((s) => [s[0] * 44, s[1], s[2], s[3]]), vmin: 0, vmax: 44, cbTicks: [0, 5, 10, 15, 20, 25, 30, 35, 40], cbDigits: 0, minorStep: 1, background: "#000", frame: 2, barGap: 11.5, barH: 10 },
  { left: 383.5, top: 0, rows: sigmaAtomRows, stops: atomStops, vmin: 0, vmax: 38.4, cbTicks: [0, 5, 10, 15, 20, 25, 30, 35], cbDigits: 0, minorStep: 1, background: "#000", frame: 2, barGap: 11.5, barH: 10 },
  { left: 0, top: 342, rows: tDustRows, stops: tDustStops, vmin: 25, vmax: 47, cbTicks: [25, 27.5, 30, 32.5, 35, 37.5, 40, 42.5, 45], cbDigits: 1, minorStep: 0.5, background: "#000", frame: 2, barGap: 11, barH: 10 },
  { left: 383.5, top: 342, rows: sigmaDustRows, stops: dustStops, vmin: 0, vmax: 0.5, cbTicks: [0, 0.1, 0.2, 0.3, 0.4, 0.5], cbDigits: 1, minorStep: 0.02, background: "#000", frame: 2, barGap: 11, barH: 10 },
  { left: 0, top: 685.5, rows: sigmaSfrRows, stops: sfrStops, vmin: 0, vmax: 0.333, cbTicks: [0, 0.05, 0.1, 0.15, 0.2, 0.25, 0.3], cbDigits: 2, minorStep: 0.01, background: "#7b00ff", frame: 3, barGap: 11, barH: 9.5 },
];

const App: React.FC = () => (
  <div style={{ position: "absolute", left: 0, top: 0, width: 830, height: 1033, overflow: "hidden", background: "#fff" }}>
    {panels.map((p, i) => (
      <ChartCanvas key={i} left={p.left} top={p.top} width={369} height={322} config={() => mapConfig(p)} />
    ))}
    <ChartCanvas left={380} top={670} width={450} height={330} config={surfaceConfig} />

    <Label x={234} y={16}><i>I</i><Sub>CO</Sub> [K km s<Sup>−1</Sup>]</Label>
    <Label x={618} y={16}>Σ<Sub>atom</Sub> [<Sun /> pc<Sup>−2</Sup>]</Label>
    <Label x={234} y={358}><i>T</i><Sub>dust</Sub> [K]</Label>
    <Label x={618} y={358}>Σ<Sub>dust</Sub> [<Sun /> pc<Sup>−2</Sup>]</Label>
    <Label x={233} y={701}>Σ<Sub>SFR</Sub> [<Sun /> yr<Sup>−1</Sup> kpc<Sup>−2</Sup>]</Label>

    <Label x={11} y={179} rotate size={11} spacing={1.1}>Declination (J2000)</Label>
    <Label x={11} y={525} rotate size={11} spacing={1.1}>Declination (J2000)</Label>
    <Label x={11} y={865} rotate size={11} spacing={1.1}>Declination (J2000)</Label>
    <Label x={233} y={1014} size={11} spacing={1.4}>Right Ascension (J2000)</Label>
    <Label x={381} y={836} rotate size={11} spacing={1.1}>DGR</Label>
    <Label x={611} y={1015} size={12.5} spacing={1.8}>α<Sub>CO</Sub> [<Sun /> pc<Sup>−2</Sup>(K km s<Sup>−1</Sup>)<Sup>−1</Sup>]</Label>
    <Label x={793} y={677} size={14} spacing={0}><i>χ</i><Sup>2</Sup></Label>
  </div>
);

export default App;
